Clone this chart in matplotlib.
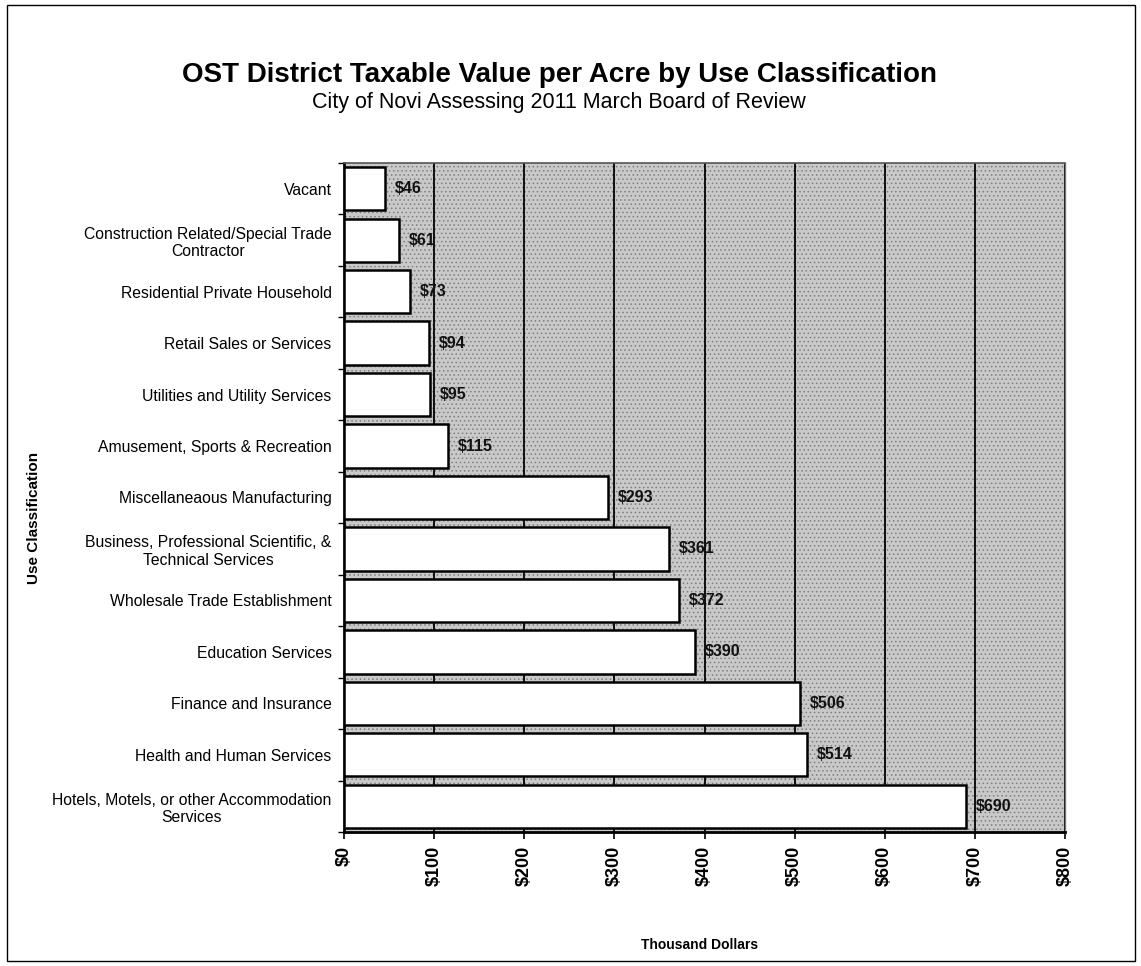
import matplotlib
matplotlib.use("Agg")
import matplotlib.pyplot as plt
from matplotlib.patches import Rectangle
from matplotlib.ticker import FixedLocator, FuncFormatter

categories = [
    "Vacant",
    "Construction Related/Special Trade\nContractor",
    "Residential Private Household",
    "Retail Sales or Services",
    "Utilities and Utility Services",
    "Amusement, Sports & Recreation",
    "Miscellaneaous Manufacturing",
    "Business, Professional Scientific, &\nTechnical Services",
    "Wholesale Trade Establishment",
    "Education Services",
    "Finance and Insurance",
    "Health and Human Services",
    "Hotels, Motels, or other Accommodation\nServices",
]
values = [46, 61, 73, 94, 95, 115, 293, 361, 372, 390, 506, 514, 690]
x_ticks = [0, 100, 200, 300, 400, 500, 600, 700, 800]

FONT = ["Liberation Sans", "DejaVu Sans"]
plt.rcParams["font.family"] = FONT
plt.rcParams["hatch.linewidth"] = 0.6

fig = plt.figure(figsize=(11.41, 9.66), dpi=100)
fig.patch.set_facecolor("white")
ax = fig.add_axes([0.3015, 0.1387, 0.9334 - 0.3015, 0.8313 - 0.1387])

# stippled gray background
ax.set_facecolor("#c9c9c9")
bg = Rectangle((0, 0), 1, 1, transform=ax.transAxes, facecolor="none",
               edgecolor="#7f7f7f", hatch="....", linewidth=0, zorder=0)
ax.add_patch(bg)

y = list(range(len(categories)))
ax.barh(y, values, height=0.84, color="white", edgecolor="black",
        linewidth=1.8, zorder=3)

for yi, v in zip(y, values):
    ax.annotate(f"${v}", xy=(v, yi), xytext=(7, 0), textcoords="offset points",
                va="center", ha="left", fontsize=11.5, fontweight="bold",
                color="#111111", zorder=4)

ax.set_xlim(0, 800)
ax.set_ylim(len(categories) - 0.5, -0.5)

ax.xaxis.set_major_locator(FixedLocator(x_ticks))
ax.xaxis.set_major_formatter(FuncFormatter(lambda v, p: f"${int(v)}"))
ax.grid(axis="x", color="black", linewidth=1.3, zorder=1)
ax.grid(axis="y", visible=False)

ax.set_yticks(y)
ax.set_yticklabels(categories, fontsize=11.3)
for t in ax.get_yticklabels():
    t.set_multialignment("center")
ax.set_yticks([i - 0.5 for i in range(len(categories) + 1)], minor=True)
ax.tick_params(axis="y", which="major", length=0, pad=9)
ax.tick_params(axis="y", which="minor", length=4, width=1, direction="out")
ax.tick_params(axis="x", which="major", length=5, width=1.2, direction="out",
               labelsize=13, labelrotation=90, pad=5)
for t in ax.get_xticklabels():
    t.set_fontweight("bold")

for s in ["left", "bottom"]:
    ax.spines[s].set_color("black")
    ax.spines[s].set_linewidth(2)
ax.spines["top"].set_color("#555555")
ax.spines["top"].set_linewidth(1.2)
ax.spines["right"].set_color("#777777")
ax.spines["right"].set_linewidth(1.0)

fig.text(0.49, 0.922, "OST District Taxable Value per Acre by Use Classification",
         ha="center", va="center", fontsize=20, fontweight="bold")
fig.text(0.49, 0.894, "City of Novi Assessing 2011 March Board of Review",
         ha="center", va="center", fontsize=15.5)
fig.text(0.613, 0.022, "Thousand Dollars", ha="center", va="center",
         fontsize=10, fontweight="bold")
fig.text(0.030, 0.464, "Use Classification", ha="center", va="center",
         rotation=90, fontsize=11, fontweight="bold")

fig.patches.append(Rectangle((0.006, 0.005), 0.989, 0.99, transform=fig.transFigure,
                             fill=False, edgecolor="black", linewidth=1.0))

fig.savefig("out.png", dpi=100)
